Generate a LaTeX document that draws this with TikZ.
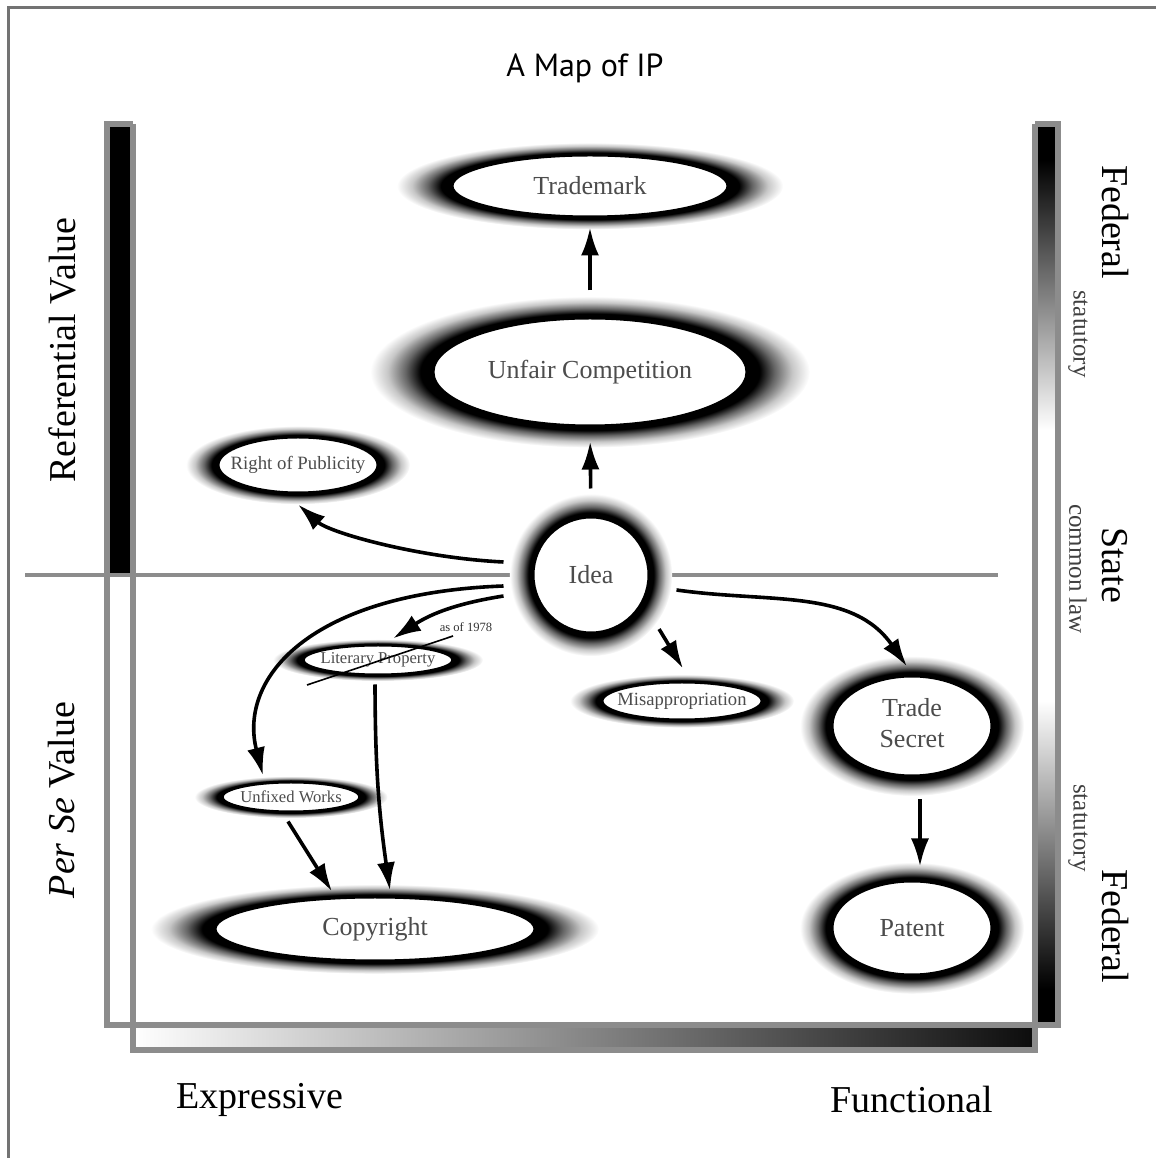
\documentclass[tikz,border=0pt]{standalone}
\usepackage{fontspec}
\setmainfont{Liberation Serif}
\newfontfamily\titlefont{PT Sans}
\usetikzlibrary{arrows.meta,shapes.geometric,calc}

% soft black glow around every area of IP
\pgfdeclareradialshading{halo}{\pgfpoint{0bp}{0bp}}{%
  color(0bp)=(black); color(17.8bp)=(black); color(19.3bp)=(black);
  color(21bp)=(black!60); color(23bp)=(black!22); color(25bp)=(white); color(50bp)=(white)}
% federal - state - federal bar on the right
\pgfdeclareverticalshading{lawbar}{100bp}{%
  color(0bp)=(black); color(27bp)=(black); color(43bp)=(white);
  color(58bp)=(white); color(73bp)=(black); color(100bp)=(black)}

\tikzset{
  ipnode/.style={ellipse, draw=black, line width=1.5pt, fill=white, inner sep=0pt, text=black!70},
  link/.style={-{Latex[length=14pt,width=9pt]}, line width=1.8pt},
  barline/.style={draw=black!45, line width=3pt},
  bigtext/.style={font=\fontsize{19}{22}\selectfont},
  smalltext/.style={font=\fontsize{12.5}{14}\selectfont, text=black!75},
}

\begin{document}
\begin{tikzpicture}[x=0.5pt,y=0.5pt]
  \useasboundingbox (0,0) rectangle (1156,1158);
  \draw[black!55,line width=1.5pt] (8,0) -- (8,1150) -- (1156,1150);
  \node (title) at (585,1090) {\titlefont\fontsize{16}{19}\selectfont A Map of IP};

  % bars and axes
  \fill[black] (107,583) rectangle (133,1034);
  \shade[shading=lawbar] (1035,133) rectangle (1058,1034);
  \shade[left color=white, right color=black!95] (133,108) rectangle (1035,133);
  \draw[barline] (133,1034) -- (107,1034) -- (107,133) -- (1058,133) -- (1058,1034) -- (1035,1034);
  \draw[barline] (133,1034) -- (133,108) -- (1035,108) -- (1035,1034);
  \draw[black!45,line width=2pt] (25,583) -- (998,583);

  % areas
  \foreach \n/\x/\y/\a/\b/\s/\t in {
      trademark/590/972/138/31/13/Trademark,
      unfair/590/786/157/54/13/Unfair Competition,
      publicity/298/693/80/28/9.4/Right of Publicity,
      idea/591/583/58/58/13/Idea,
      literary/378/498/75/15/8.3/Literary Property,
      misapp/682/457/80/19/9.3/Misappropriation,
      trade/912/432/80/50/13/{\begin{tabular}{@{}c@{}}Trade\\Secret\end{tabular}},
      unfixed/291/361/69/15/8.3/Unfixed Works,
      copyright/375/229/160/32/13/Copyright,
      patent/912/230/80/47/13/Patent}{
    \shade[shading=halo] (\x,\y) ellipse ({1.4*\a} and {1.4*\b});
    \node[ipnode, minimum width=\a pt, minimum height=\b pt, font=\fontsize{\s}{15.5}\selectfont] (\n) at (\x,\y) {\makebox[0pt]{\t}};
  }

  % arrows
  \draw[link, shorten <=13.5pt, shorten >=7pt] (idea.north) -- (unfair.south);
  \draw[link, shorten <=13pt, shorten >=4.5pt] (unfair.north) -- (trademark.south);
  \draw[link] ($(idea.west)+(-28,13)$) .. controls (420,600) and (330,625) .. ($(publicity.south)+(0,-10)$);
  \draw[link] ($(idea.west)+(-28,-11)$) .. controls (310,565) and (238,480) .. ($(unfixed.north)+(-28,5)$);
  \draw[link] ($(idea.west)+(-28,-21)$) to[bend right=12] ($(literary.north)+(15,5)$);
  \draw[link] ($(idea.south east)+(26,-12)$) -- ($(misapp.north)+(1,12)$);
  \draw[link] ($(idea.east)+(26,-15)$) to[out=-8,in=125] ($(trade.north)+(-5,8)$);
  \draw[link] ($(trade.south)+(8,-22)$) -- ($(patent.north)+(8,13)$);
  \draw[link] ($(unfixed.south)+(-3,-8)$) -- ($(copyright.north)+(-43,4)$);
  \draw[link] ($(literary.south)+(-3,-8)$) to[bend right=4] ($(copyright.north)+(15,5)$);

  % literary property struck out
  \draw[line width=0.8pt] ($(literary.center)+(-71,-25)$) -- ($(literary.center)+(75,24)$);
  \node[font=\fontsize{6.3}{7}\selectfont, text=black!80] (asof) at (466,531) {as of 1978};

  % labels
  \node[bigtext, rotate=90] (refval) at (62,808) {Referential Value};
  \node[bigtext, rotate=90] (perse) at (62,358) {\textit{Per Se} Value};
  \node[bigtext, rotate=-90] (fedtop) at (1115,936) {Federal};
  \node[bigtext, rotate=-90] (state) at (1115,593) {State};
  \node[bigtext, rotate=-90] (fedbot) at (1115,232) {Federal};
  \node[smalltext, rotate=-90] (stattop) at (1078,824) {statutory};
  \node[smalltext, rotate=-90] (common) at (1078,589) {common law};
  \node[smalltext, rotate=-90] (statbot) at (1078,330) {statutory};
  \node[bigtext] (expr) at (260,58) {Expressive};
  \node[bigtext] (func) at (912,58) {Functional};
\end{tikzpicture}
\end{document}
